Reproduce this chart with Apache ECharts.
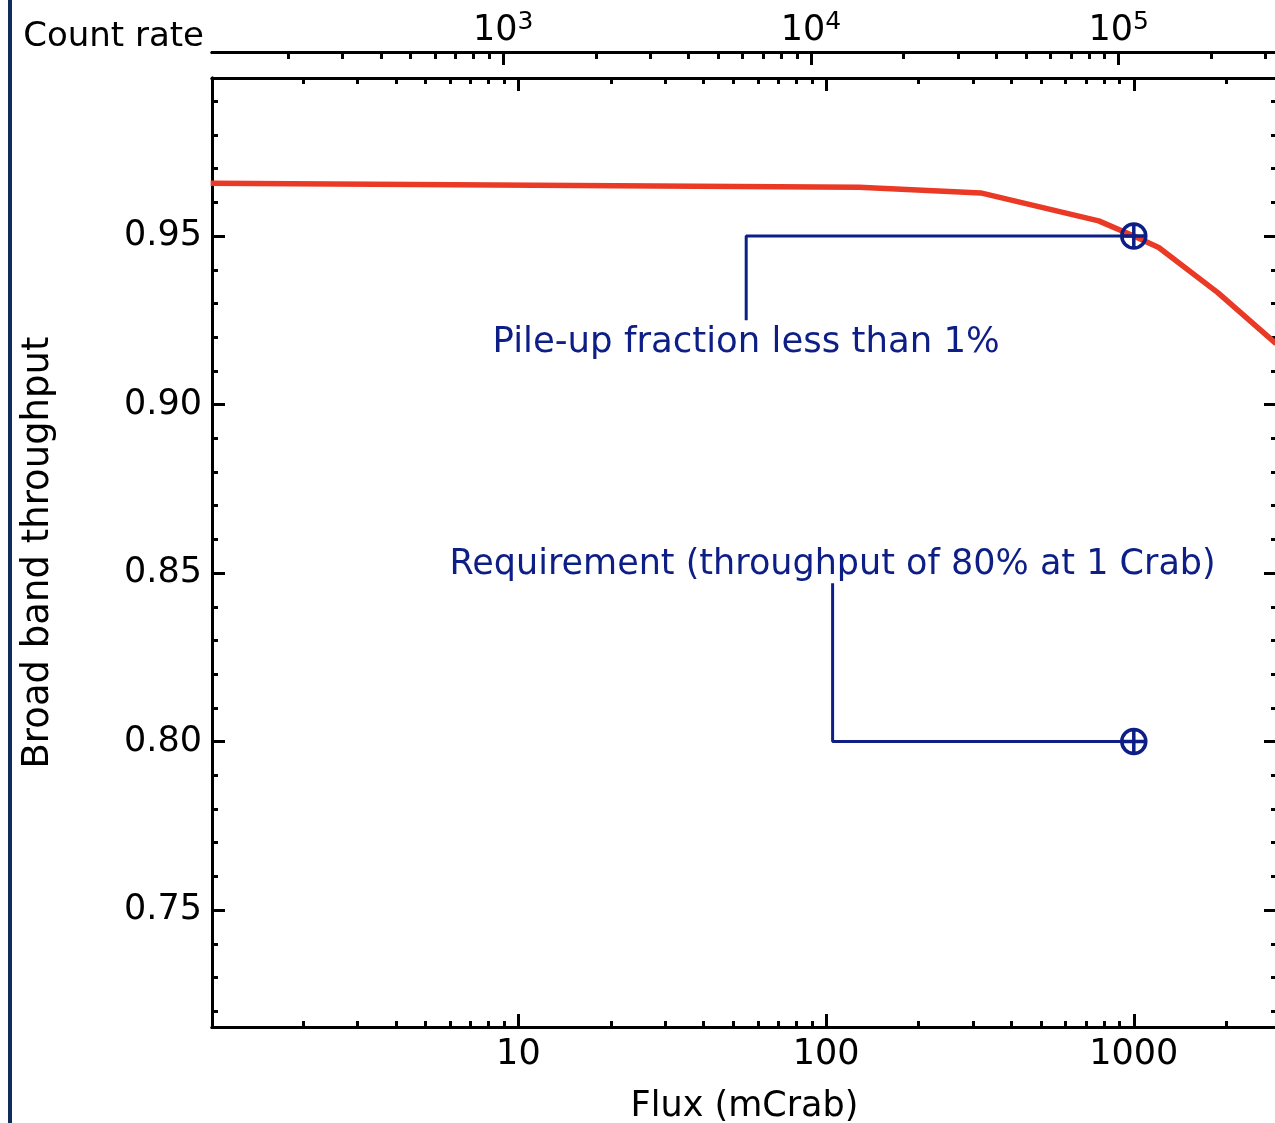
<!DOCTYPE html>
<html>
<head>
<meta charset="utf-8">
<title>Broad band throughput vs flux</title>
<script src="https://cdn.jsdelivr.net/npm/echarts@6/dist/echarts.min.js"></script>
<style>
    html, body { margin: 0; padding: 0; background: #fff; }
    #chart { width: 1275px; height: 1123px; }
</style>
</head>
<body>
<div id="chart"></div>
<script>
    /* ------ data ------ */

    // throughput curve (flux in mCrab)
    var fluxValues = [1.0, 128, 318, 769, 1000, 1205, 1875, 2900];
    var throughputValues = [0.9657, 0.9645, 0.9628, 0.9545, 0.950, 0.9466, 0.9332, 0.9181];

    // marked points (circle with cross)
    var markerFlux = [1000, 1000];
    var markerValues = [0.95, 0.80];

    // annotation leader lines
    var pileupLine = [[1000, 0.95], [55, 0.95], [55, 0.925]];
    var requirementLine = [[1000, 0.80], [105, 0.80], [105, 0.847]];

    // annotation texts
    var pileupText = 'Pile-up fraction less than 1%';
    var pileupTextPos = [55, 0.9183];
    var requirementText = 'Requirement (throughput of 80% at 1 Crab)';
    var requirementTextPos = [105, 0.8525];

    // axes ranges
    var fluxMin = 1.01, fluxMax = 2920;
    var countPerFlux = 112; // count rate = flux * this
    var yMin = 0.7153, yMax = 0.9969;

    // tick values
    var fluxMajor = [10, 100, 1000];
    var fluxMinor = [2, 3, 4, 5, 6, 7, 8, 9, 20, 30, 40, 50, 60, 70, 80, 90,
        200, 300, 400, 500, 600, 700, 800, 900, 2000];
    var countMajor = [1000, 10000, 100000];
    var countMinor = [200, 300, 400, 500, 600, 700, 800, 900,
        2000, 3000, 4000, 5000, 6000, 7000, 8000, 9000,
        20000, 30000, 40000, 50000, 60000, 70000, 80000, 90000,
        200000, 300000];
    var yMajor = [0.75, 0.80, 0.85, 0.90, 0.95];
    var yMinor = [0.72, 0.73, 0.74, 0.76, 0.77, 0.78, 0.79, 0.81, 0.82, 0.83, 0.84,
        0.86, 0.87, 0.88, 0.89, 0.91, 0.92, 0.93, 0.94, 0.96, 0.97, 0.98, 0.99];

    /* ------ style ------ */

    var FONT = 'DejaVu Sans';
    var NAVY = '#0d1f86';
    var RED = '#ea3a26';
    var AXIS_W = 3;

    function zip(xs, ys) {
        var out = [];
        for (var i = 0; i < xs.length; i++) out.push([xs[i], ys[i]]);
        return out;
    }

    // one axis entry; minor axes only draw ticks
    function fluxAxis(pos, ticks, len, extra) {
        var a = {
            type: 'log',
            position: pos,
            min: fluxMin,
            max: fluxMax,
            axisLine: { show: true, lineStyle: { color: '#000', width: AXIS_W } },
            axisTick: { show: true, inside: true, length: len, customValues: ticks,
                lineStyle: { color: '#000', width: AXIS_W } },
            axisLabel: { show: false },
            splitLine: { show: false },
            minorTick: { show: false }
        };
        return Object.assign(a, extra || {});
    }

    function countAxis(ticks, len, extra) {
        var a = {
            type: 'log',
            position: 'top',
            offset: 26,
            min: fluxMin * countPerFlux,
            max: fluxMax * countPerFlux,
            axisLine: { show: true, lineStyle: { color: '#000', width: AXIS_W } },
            axisTick: { show: true, inside: true, length: len, customValues: ticks,
                lineStyle: { color: '#000', width: AXIS_W } },
            axisLabel: { show: false },
            splitLine: { show: false }
        };
        return Object.assign(a, extra || {});
    }

    function yAxisOf(pos, ticks, len, extra) {
        var a = {
            type: 'value',
            position: pos,
            min: yMin,
            max: yMax,
            axisLine: { show: true, lineStyle: { color: '#000', width: AXIS_W } },
            axisTick: { show: true, inside: true, length: len, customValues: ticks,
                lineStyle: { color: '#000', width: AXIS_W } },
            axisLabel: { show: false },
            splitLine: { show: false }
        };
        return Object.assign(a, extra || {});
    }

    var chart = echarts.init(document.getElementById('chart'), null, { renderer: 'canvas' });

    var option = {
        backgroundColor: '#fff',
        animation: false,
        textStyle: { fontFamily: FONT },
        grid: { left: 212, top: 78, width: 1065, height: 949, containLabel: false,
            outerBoundsMode: 'none' },
        graphic: [
            { type: 'rect', left: 8, top: 0, shape: { width: 4, height: 1123 },
                style: { fill: '#0e2c5e' } }
        ],
        xAxis: [
            fluxAxis('bottom', fluxMajor, 13, {
                name: 'Flux (mCrab)',
                nameLocation: 'middle',
                nameGap: 62,
                nameTextStyle: { fontSize: 35, color: '#000', fontFamily: FONT },
                axisLabel: {
                    show: true, margin: 10, customValues: fluxMajor,
                    fontSize: 35, color: '#000', fontFamily: FONT,
                    formatter: function (v) { return String(Math.round(v)); }
                }
            }),
            fluxAxis('bottom', fluxMinor, 6),
            fluxAxis('top', fluxMajor, 13),
            fluxAxis('top', fluxMinor, 6),
            countAxis(countMajor, 13, {
                name: 'Count rate',
                nameLocation: 'start',
                nameGap: 8,
                nameTextStyle: { fontSize: 34, color: '#000', fontFamily: FONT,
                    verticalAlign: 'bottom', padding: [0, 0, -2, 0] },
                axisLabel: {
                    show: true, margin: 0, customValues: countMajor,
                    formatter: function (v) {
                        var e = Math.round(Math.log(v) / Math.LN10);
                        return '{b|10}{s|' + e + '}';
                    },
                    rich: {
                        b: { fontSize: 35, lineHeight: 42, color: '#000', fontFamily: FONT },
                        s: { fontSize: 25, lineHeight: 24, verticalAlign: 'top',
                            color: '#000', fontFamily: FONT }
                    }
                }
            }),
            countAxis(countMinor, 7)
        ],
        yAxis: [
            yAxisOf('left', yMajor, 13, {
                name: 'Broad band throughput',
                nameLocation: 'middle',
                nameGap: 155,
                nameTextStyle: { fontSize: 37, color: '#000', fontFamily: FONT },
                axisLabel: {
                    show: true, margin: 10, customValues: yMajor,
                    fontSize: 35, color: '#000', fontFamily: FONT,
                    formatter: function (v) { return v.toFixed(2); }
                }
            }),
            yAxisOf('left', yMinor, 6),
            yAxisOf('right', yMajor, 13),
            yAxisOf('right', yMinor, 6)
        ],
        series: [
            {
                type: 'line',
                xAxisIndex: 0, yAxisIndex: 0,
                data: pileupLine,
                symbol: 'none',
                lineStyle: { color: NAVY, width: 3 },
                z: 2
            },
            {
                type: 'line',
                xAxisIndex: 0, yAxisIndex: 0,
                data: requirementLine,
                symbol: 'none',
                lineStyle: { color: NAVY, width: 3 },
                z: 2
            },
            {
                type: 'line',
                name: 'throughput',
                xAxisIndex: 0, yAxisIndex: 0,
                data: zip(fluxValues, throughputValues),
                symbol: 'none',
                lineStyle: { color: RED, width: 5.5 },
                z: 3
            },
            {
                type: 'scatter',
                xAxisIndex: 0, yAxisIndex: 0,
                data: zip(markerFlux, markerValues),
                symbol: 'path://M12,0 A12,12 0 1,1 -12,0 A12,12 0 1,1 12,0 Z M-12,0 L12,0 M0,-12 L0,12',
                symbolSize: 24,
                itemStyle: { color: 'transparent', borderColor: NAVY, borderWidth: 3.5, opacity: 1 },
                z: 4
            },
            {
                type: 'scatter',
                xAxisIndex: 0, yAxisIndex: 0,
                data: [pileupTextPos],
                symbolSize: 1,
                itemStyle: { color: 'transparent', opacity: 1 },
                label: { show: true, position: 'inside', formatter: pileupText,
                    fontSize: 35.5, color: NAVY, fontFamily: FONT, opacity: 1 },
                z: 5
            },
            {
                type: 'scatter',
                xAxisIndex: 0, yAxisIndex: 0,
                data: [requirementTextPos],
                symbolSize: 1,
                itemStyle: { color: 'transparent', opacity: 1 },
                label: { show: true, position: 'inside', formatter: requirementText,
                    fontSize: 35, color: NAVY, fontFamily: FONT, opacity: 1 },
                z: 5
            }
        ]
    };

    chart.setOption(option);
</script>
</body>
</html>
